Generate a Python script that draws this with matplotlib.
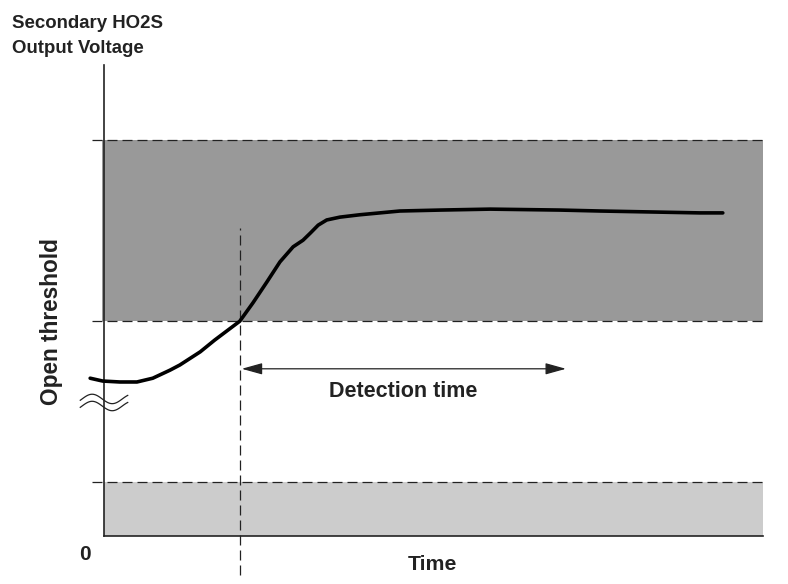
import numpy as np
import matplotlib.pyplot as plt

plt.rcParams['font.family'] = ['Liberation Sans', 'DejaVu Sans']

# Sensor output curve (time units 0-100, voltage units 0-100)
time = [-2.1, -0.2, 2.4, 5.0, 7.4, 10.0, 11.5, 14.6, 16.8, 20.6, 22.6, 24.7,
        26.7, 28.7, 30.2, 31.3, 32.5, 33.8, 35.8, 38.8, 44.9, 51.0, 58.6,
        69.2, 75.3, 82.9, 90.4, 93.9]
voltage = [33.5, 32.9, 32.7, 32.7, 33.5, 35.2, 36.3, 39.1, 41.6, 45.6, 49.5, 53.9,
           58.2, 61.4, 62.8, 64.3, 66.0, 67.1, 67.7, 68.2, 69.0, 69.2, 69.4,
           69.2, 69.0, 68.8, 68.6, 68.6]

# Threshold levels
low_band_top = 11.5
open_threshold = 45.6
high_band_top = 84.1

# Detection window
detect_start = 20.6
detect_end = 70.1
arrow_level = 35.5

fig = plt.figure(figsize=(7.88, 5.84), dpi=100)
ax = fig.add_axes([104 / 788, 48 / 584, 659 / 788, 471 / 584])
ax.set_xlim(0, 100)
ax.set_ylim(0, 100)

# shaded bands
ax.axhspan(open_threshold, high_band_top, xmin=-0.003, xmax=1, color='#999999', lw=0, clip_on=False)
ax.axhspan(0, low_band_top, color='#cccccc', lw=0)

# dashed threshold lines
for lvl in [low_band_top, open_threshold, high_band_top]:
    ax.plot([-1.8, 100], [lvl, lvl], color='#222222', lw=0.9, ls=(0, (8, 4)), clip_on=False)

# vertical dashed line at detection start
ax.plot([detect_start, detect_start], [-8.3, 65.4], color='#222222', lw=0.9,
        ls=(0, (8, 4)), clip_on=False)

# output curve
ax.plot(time, voltage, color='black', lw=2.6, solid_capstyle='round',
        solid_joinstyle='round', clip_on=False, zorder=5)

# detection time arrow
ax.annotate('', xy=(detect_start + 0.3, arrow_level), xytext=(detect_end, arrow_level),
            arrowprops=dict(arrowstyle='<|-|>,head_length=0.9,head_width=0.25', color='#222222',
                            lw=0.9, mutation_scale=14, shrinkA=0, shrinkB=0))
ax.text((detect_start + detect_end) / 2, 30.6, 'Detection time', ha='center', va='center',
        fontsize=15.5, fontweight='bold', color='#222222')

# axis break mark
xs = np.linspace(-3.6, 3.6, 80)
for yc in [29.1, 27.6]:
    ax.plot(xs, yc + 1.0 * np.sin((xs + 1.8) / 6.1 * 2 * np.pi + np.pi / 2), color='#222222',
            lw=0.9, clip_on=False)

# spines
for s in ['top', 'right']:
    ax.spines[s].set_visible(False)
for s in ['left', 'bottom']:
    ax.spines[s].set_linewidth(1.2)
    ax.spines[s].set_color('#222222')
ax.set_xticks([])
ax.set_yticks([])

fig.text(12 / 788, 1 - 28 / 584, 'Secondary HO2S', ha='left', va='baseline',
         fontsize=13.4, fontweight='bold', color='#222222')
fig.text(12 / 788, 1 - 53 / 584, 'Output Voltage', ha='left', va='baseline',
         fontsize=13.4, fontweight='bold', color='#222222')
fig.text(52 / 788, 1 - 322 / 584, 'Open threshold', rotation=90, ha='center', va='center',
         fontsize=16.3, fontweight='bold', color='#222222')
fig.text(85 / 788, 1 - 555 / 584, '0', ha='center', va='center',
         fontsize=15, fontweight='bold', color='#222222')
fig.text(432 / 788, 1 - 565 / 584, 'Time', ha='center', va='center',
         fontsize=15.3, fontweight='bold', color='#222222')

fig.savefig('out.png', dpi=100)
